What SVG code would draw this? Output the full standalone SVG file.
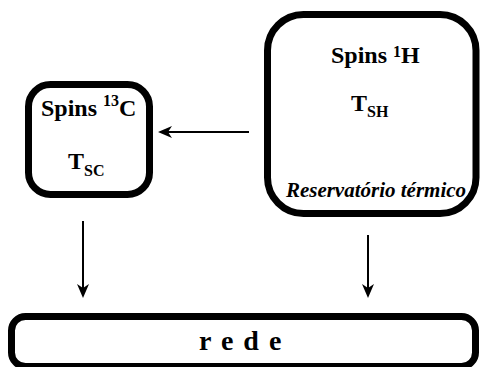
<svg xmlns="http://www.w3.org/2000/svg" width="480" height="367" viewBox="0 0 480 367">
  <style>
    .box { fill: #ffffff; stroke: #000000; stroke-width: 7; }
    .lbl { font-family: "Liberation Serif", "Times New Roman", serif; font-weight: bold; fill: #000000; }
    .it { font-style: italic; }
    .wire { stroke: #000000; stroke-width: 2; fill: none; marker-end: url(#head); }
  </style>
  <defs>
    <!-- notched arrowhead, tip 8px beyond the line end -->
    <marker id="head" viewBox="0 0 14 12" refX="6" refY="6" markerWidth="14" markerHeight="12" markerUnits="userSpaceOnUse" orient="auto">
      <path d="M0,0 L14,6 L0,12 L4,6 z" fill="#000000"/>
    </marker>
  </defs>

  <!-- carbon spin system -->
  <g id="spins-c13">
    <rect class="box" x="28.5" y="84.5" width="121" height="110" rx="22" ry="22"/>
    <text class="lbl" x="41" y="116" font-size="24">Spins <tspan font-size="16" dy="-10">13</tspan><tspan dy="10">C</tspan></text>
    <text class="lbl" x="68" y="169" font-size="24">T<tspan font-size="16" dy="7">SC</tspan></text>
  </g>

  <!-- proton spin system / thermal reservoir -->
  <g id="spins-h1">
    <rect class="box" x="267.5" y="14.5" width="208.5" height="199" rx="36" ry="36"/>
    <text class="lbl" x="331" y="63" font-size="24">Spins <tspan font-size="16" dy="-6">1</tspan><tspan dy="6">H</tspan></text>
    <text class="lbl" x="351" y="111" font-size="24">T<tspan font-size="16" dy="6">SH</tspan></text>
    <text class="lbl it" x="376" y="197" font-size="21" text-anchor="middle">Reservatório térmico</text>
  </g>

  <!-- lattice -->
  <g id="rede">
    <rect class="box" x="11.5" y="316.5" width="464" height="50" rx="14" ry="14"/>
    <text class="lbl" x="199" y="350" font-size="28" letter-spacing="1.5">r e d e</text>
  </g>

  <g id="connectors">
    <line class="wire" x1="249" y1="132" x2="166" y2="132"/>
    <line class="wire" x1="83" y1="221" x2="83" y2="290"/>
    <line class="wire" x1="368" y1="235" x2="368" y2="290"/>
  </g>
</svg>
